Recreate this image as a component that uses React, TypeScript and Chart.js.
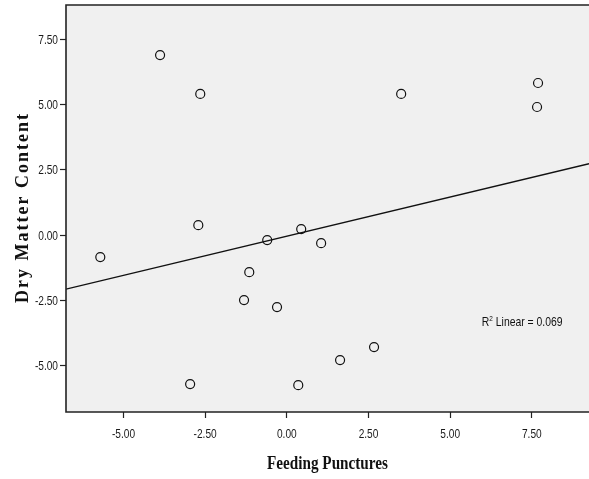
import React, { useEffect, useRef } from "react";
import { Chart, registerables } from "chart.js";

Chart.register(...registerables);

const feedingPunctures = [-5.71, -3.88, -2.65, -2.71, -2.96, -1.15, -1.31, -0.6, -0.3, 0.44, 1.05, 0.35, 1.63, 2.67, 3.5, 7.69, 7.66];
const dryMatter = [-0.84, 6.9, 5.41, 0.38, -5.71, -1.42, -2.49, -0.19, -2.76, 0.23, -0.31, -5.75, -4.79, -4.29, 5.41, 5.83, 4.91];
const xTicks = [-5, -2.5, 0, 2.5, 5, 7.5];
const yTicks = [-5, -2.5, 0, 2.5, 5, 7.5];
const xRange = [-6.76, 9.25];
const yRange = [-6.78, 8.82];
const fitIntercept = -0.04;
const fitSlope = 0.3;
const r2Label = "0.069";
const xTitle = "Feeding Punctures";
const yTitle = "Dry Matter Content";

const SANS = "'Liberation Sans', Arial, sans-serif";
const SERIF = "'Liberation Serif', 'Times New Roman', serif";
const NARROW = 0.78;

function drawScaled(ctx: any, text: string, x: number, y: number, font: string, sx: number, align: string) {
  ctx.save();
  ctx.font = font;
  const w = ctx.measureText(text).width * sx;
  let left = x;
  if (align === "center") left = x - w / 2;
  else if (align === "right") left = x - w;
  ctx.translate(left, y);
  ctx.scale(sx, 1);
  ctx.textAlign = "left";
  ctx.fillText(text, 0, 0);
  ctx.restore();
  return w;
}

const plotDecor = {
  id: "plotDecor",
  beforeDraw(chart: any) {
    const { ctx, chartArea: a } = chart;
    ctx.save();
    ctx.fillStyle = "#f0f0f0";
    ctx.fillRect(a.left, a.top, a.right - a.left, a.bottom - a.top);
    ctx.restore();
  },
  afterDraw(chart: any) {
    const { ctx, chartArea: a } = chart;
    const xs = chart.scales.x;
    const ys = chart.scales.y;
    ctx.save();
    ctx.strokeStyle = "#222";
    ctx.lineWidth = 1.6;
    ctx.beginPath();
    ctx.moveTo(a.right + 2, a.top);
    ctx.lineTo(a.left, a.top);
    ctx.lineTo(a.left, a.bottom);
    ctx.lineTo(a.right + 2, a.bottom);
    ctx.stroke();

    ctx.fillStyle = "#1a1a1a";
    ctx.textBaseline = "alphabetic";
    const tickFont = `13px ${SANS}`;
    xTicks.forEach((v) => {
      drawScaled(ctx, v.toFixed(2), xs.getPixelForValue(v), a.bottom + 26, tickFont, NARROW, "center");
    });
    yTicks.forEach((v) => {
      drawScaled(ctx, v.toFixed(2), a.left - 8, ys.getPixelForValue(v) + 4.5, tickFont, NARROW, "right");
    });

    // R² annotation
    const px = xs.getPixelForValue(5.97);
    const py = ys.getPixelForValue(-3.3) + 5;
    ctx.fillStyle = "#111";
    let cx = px;
    cx += drawScaled(ctx, "R", cx, py, `13px ${SANS}`, 0.8, "left");
    cx += drawScaled(ctx, "2", cx, py - 5, `8px ${SANS}`, 0.8, "left");
    drawScaled(ctx, " Linear = " + r2Label, cx, py, `13px ${SANS}`, 0.8, "left");

    // Axis titles
    ctx.fillStyle = "#111";
    drawScaled(ctx, xTitle, (a.left + a.right) / 2, 469, `bold 19px ${SERIF}`, 0.8, "center");

    ctx.save();
    ctx.translate(28, (a.top + a.bottom) / 2);
    ctx.rotate(-Math.PI / 2);
    ctx.font = `bold 18px ${SERIF}`;
    const natural = ctx.measureText(yTitle).width;
    const spacing = Math.max(0, (189 - natural) / (yTitle.length - 1));
    (ctx as any).letterSpacing = `${spacing}px`;
    const w = ctx.measureText(yTitle).width;
    ctx.textAlign = "left";
    ctx.fillText(yTitle, -w / 2 + spacing / 2, 0);
    ctx.restore();

    ctx.restore();
  },
};

export default function App() {
  const ref = useRef<HTMLCanvasElement | null>(null);
  useEffect(() => {
    document.body.style.margin = "0";
    const points = feedingPunctures.map((x, i) => ({ x, y: dryMatter[i] }));
    const fit = [
      { x: xRange[0], y: fitIntercept + fitSlope * xRange[0] },
      { x: xRange[1], y: fitIntercept + fitSlope * xRange[1] },
    ];
    const chart = new Chart(ref.current!, {
      type: "scatter",
      data: {
        datasets: [
          {
            data: points,
            pointRadius: 4.5,
            pointBorderWidth: 1.2,
            pointBorderColor: "#111",
            pointBackgroundColor: "rgba(0,0,0,0)",
            showLine: false,
          },
          {
            data: fit,
            showLine: true,
            pointRadius: 0,
            borderColor: "#111",
            borderWidth: 1.3,
          },
        ],
      },
      options: {
        responsive: false,
        animation: false,
        events: [],
        layout: { autoPadding: false, padding: { top: 5, right: 0, left: 0, bottom: 0 } },
        plugins: { legend: { display: false }, tooltip: { enabled: false } },
        scales: {
          x: {
            type: "linear",
            min: xRange[0],
            max: xRange[1],
            afterBuildTicks: (s: any) => {
              s.ticks = xTicks.map((v) => ({ value: v }));
            },
            afterFit: (s: any) => {
              s.height = 67;
            },
            grid: { drawOnChartArea: false, tickLength: 6, tickColor: "#222", tickWidth: 1.2 },
            border: { display: false },
            ticks: { display: false },
          },
          y: {
            type: "linear",
            min: yRange[0],
            max: yRange[1],
            afterBuildTicks: (s: any) => {
              s.ticks = yTicks.map((v) => ({ value: v }));
            },
            afterFit: (s: any) => {
              s.width = 66;
            },
            grid: { drawOnChartArea: false, tickLength: 6, tickColor: "#222", tickWidth: 1.2 },
            border: { display: false },
            ticks: { display: false },
          },
        },
      },
      plugins: [plotDecor],
    });
    return () => chart.destroy();
  }, []);
  return <canvas ref={ref} width={589} height={479} style={{ display: "block" }} />;
}
